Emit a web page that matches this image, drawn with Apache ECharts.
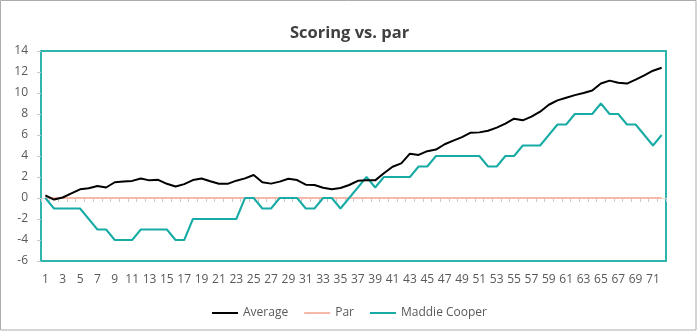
<!DOCTYPE html>
<html>
<head>
<meta charset="utf-8">
<script src="https://cdn.jsdelivr.net/npm/echarts@6/dist/echarts.min.js"></script>
<style>
html,body{margin:0;padding:0;background:#fff;}
#chart{width:699px;height:333px;}
</style>
</head>
<body>
<div id="chart"></div>
<script>
const categories = [];
for (let i = 1; i <= 72; i++) categories.push(String(i));

const average = [0.25,-0.15,0.05,0.44,0.83,0.93,1.15,1.0,1.5,1.57,1.63,1.85,1.68,1.73,1.35,1.09,1.32,1.71,1.86,1.6,1.35,1.35,1.65,1.87,2.19,1.49,1.37,1.56,1.84,1.71,1.27,1.24,0.98,0.83,0.95,1.24,1.64,1.68,1.68,2.35,2.98,3.3,4.22,4.1,4.46,4.61,5.12,5.46,5.8,6.22,6.25,6.41,6.7,7.08,7.55,7.4,7.75,8.22,8.88,9.3,9.55,9.8,10.0,10.23,10.9,11.18,10.97,10.9,11.28,11.68,12.12,12.4];

const par = [0,0,0,0,0,0,0,0,0,0,0,0,0,0,0,0,0,0,0,0,0,0,0,0,0,0,0,0,0,0,0,0,0,0,0,0,0,0,0,0,0,0,0,0,0,0,0,0,0,0,0,0,0,0,0,0,0,0,0,0,0,0,0,0,0,0,0,0,0,0,0,0];

const maddie = [0,-1,-1,-1,-1,-2,-3,-3,-4,-4,-4,-3,-3,-3,-3,-4,-4,-2,-2,-2,-2,-2,-2,0,0,-1,-1,0,0,0,-1,-1,0,0,-1,0,1,2,1,2,2,2,2,3,3,4,4,4,4,4,4,3,3,4,4,5,5,5,6,7,7,8,8,8,9,8,8,7,7,6,5,6];

const yTicks = { min: -6, max: 14, interval: 2 };

const font = '"Open Sans", "Noto Sans", sans-serif';
const chart = echarts.init(document.getElementById('chart'), null, {renderer: 'canvas'});
chart.setOption({
  animation: false,
  backgroundColor: '#fff',
  graphic: [{
    type: 'rect', silent: true, z: -1,
    shape: {x: 0.5, y: 0.5, width: 695.5, height: 329.5},
    style: {fill: 'none', stroke: '#ABABAB', lineWidth: 1}
  }],
  title: {
    text: 'Scoring vs. par', left: 'center', top: 20,
    textStyle: {fontFamily: font, fontSize: 16.5, fontWeight: 'bold', color: '#404040'}
  },
  legend: {
    bottom: 9, left: 'center', icon: 'rect', itemWidth: 26, itemHeight: 2, itemGap: 16,
    textStyle: {fontFamily: font, fontSize: 12, color: '#595959'},
    data: ['Average', 'Par', 'Maddie Cooper']
  },
  grid: {
    left: 41, right: 33, top: 51, bottom: 72, containLabel: false,
    show: true, borderColor: '#30B5AE', borderWidth: 2, backgroundColor: 'transparent'
  },
  xAxis: [{
    type: 'category', data: categories, boundaryGap: true,
    axisLine: {show: true, onZero: true, lineStyle: {color: '#D9D9D9', width: 1}},
    axisTick: {show: true, interval: 0, length: 4, lineStyle: {color: '#C8C8C8'}},
    axisLabel: {show: false},
    splitLine: {show: false}
  }, {
    type: 'category', data: categories, boundaryGap: true, position: 'bottom',
    axisLine: {show: false, onZero: false}, axisTick: {show: false},
    axisLabel: {interval: 1, margin: 13, fontFamily: font, fontSize: 12, color: '#595959'},
    splitLine: {show: false}
  }],
  yAxis: {
    type: 'value', min: yTicks.min, max: yTicks.max, interval: yTicks.interval,
    axisLine: {show: false},
    axisTick: {show: true, length: 4, lineStyle: {color: '#C8C8C8'}},
    axisLabel: {margin: 13, fontFamily: font, fontSize: 12, color: '#595959'},
    splitLine: {show: false}
  },
  series: [{
    name: 'Average', type: 'line', data: average, xAxisIndex: 0,
    showSymbol: false, symbol: 'none', color: '#000000',
    lineStyle: {width: 2, color: '#000000'}, z: 4
  }, {
    name: 'Par', type: 'line', data: par, xAxisIndex: 0,
    showSymbol: false, symbol: 'none', color: '#F7B8AA',
    lineStyle: {width: 2, color: '#F7B8AA'}, z: 2
  }, {
    name: 'Maddie Cooper', type: 'line', data: maddie, xAxisIndex: 0,
    showSymbol: false, symbol: 'none', color: '#17ABA5',
    lineStyle: {width: 2, color: '#17ABA5'}, z: 3
  }]
});
</script>
</body>
</html>
